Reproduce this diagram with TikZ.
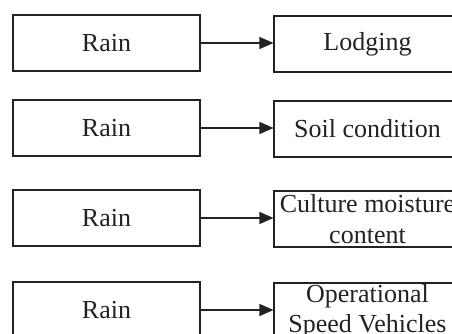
\documentclass[tikz,border=0pt]{standalone}
\usepackage{fontspec}
\setmainfont{Liberation Serif}
\usetikzlibrary{arrows.meta}
\definecolor{ink}{HTML}{222222}
\begin{document}
\begin{tikzpicture}[x=1pt,y=1pt,
  box/.style={draw=ink,line width=1.1pt,minimum width=187pt,minimum height=56pt,inner sep=0pt,
    text=ink,align=center,font=\fontsize{26}{30.5}\selectfont},
  conn/.style={draw=ink,line width=1.2pt,-{Triangle[length=14pt,width=12pt]}}]
\clip (0,0) rectangle (452,334);
\node[box] (l1) at (106.5,291) {Rain};
\node[box] (l2) at (106.5,206) {Rain};
\node[box] (l3) at (106.5,116) {Rain};
\node[box] (l4) at (106.5,24) {Rain};
\node[box] (r1) at (367.5,290) {Lodging};
\node[box] (r2) at (367.5,205) {Soil condition};
\node[box] (r3) at (367.5,115) {Culture moisture\\content};
\node[box] (r4) at (367.5,23) {Operational\\Speed Vehicles};
\draw[conn] (l1.east) -- (l1.east -| r1.west);
\draw[conn] (l2.east) -- (l2.east -| r2.west);
\draw[conn] (l3.east) -- (l3.east -| r3.west);
\draw[conn] (l4.east) -- (l4.east -| r4.west);
\end{tikzpicture}
\end{document}
